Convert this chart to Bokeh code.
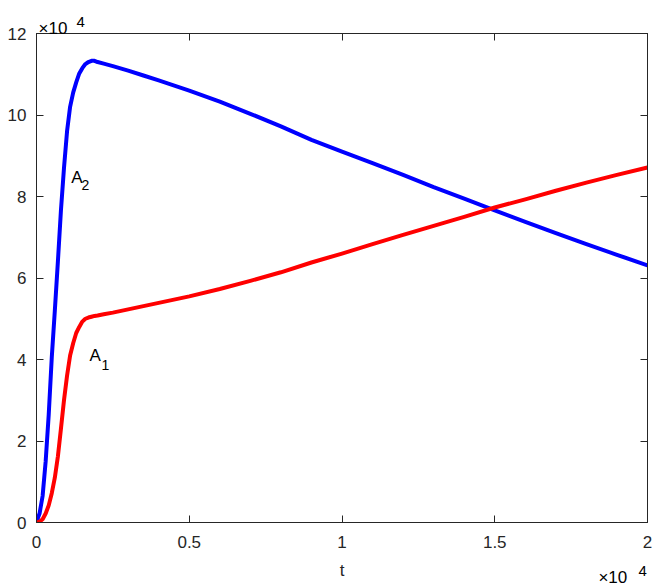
from bokeh.plotting import figure
from bokeh.models import LinearAxis, FixedTicker, Label, Range1d
from bokeh.embed import file_html
from bokeh.resources import INLINE

# time points
t = [0, 100, 200, 300, 400, 500, 600, 700, 800, 900, 1000, 1100, 1200, 1300,
     1400, 1500, 1600, 1700, 1800, 1900, 2000, 2200, 2500, 3000, 3500, 4000,
     5000, 6000, 7000, 8000, 9000, 10000, 11000, 12000, 13000, 14000, 15000,
     16000, 17000, 18000, 19000, 20000]

# A2 (blue)
A2 = [200, 2200, 6500, 15000, 26500, 40500, 52000, 64000, 76600, 87000,
      96000, 102000, 105500, 108000, 110200, 111500, 112500, 113000, 113300,
      113300, 113000, 112600, 112000, 110900, 109700, 108500, 106000, 103300,
      100300, 97200, 93900, 91000, 88200, 85300, 82300, 79500, 76600, 73800,
      71000, 68300, 65700, 63100]

# A1 (red)
A1 = [0, 200, 800, 2200, 4200, 7200, 11000, 16200, 23000, 30000, 36000,
      41000, 44000, 46500, 48000, 49300, 50000, 50300, 50500, 50700, 50800,
      51100, 51500, 52300, 53100, 53900, 55500, 57300, 59300, 61400, 63800,
      66000, 68300, 70600, 72800, 75000, 77300, 79300, 81400, 83400, 85300,
      87100]

x_ticks = [0, 5000, 10000, 15000, 20000]
x_tick_labels = ["0", "0.5", "1", "1.5", "2"]
y_ticks = [0, 20000, 40000, 60000, 80000, 100000, 120000]
y_tick_labels = ["0", "2", "4", "6", "8", "10", "12"]

FONT = "Liberation Sans"
DARK = "#262626"

# the side panels grow by (4 px left, 5 px top) because of the exponent
# labels; the canvas is enlarged by that much and shifted back with a
# negative margin so the frame lands where the reference has it
p = figure(width=666, height=591,
           x_range=Range1d(0, 20000), y_range=Range1d(0, 120000),
           output_backend="svg", toolbar_location=None,
           min_border_left=37, min_border_right=15,
           min_border_top=33, min_border_bottom=64,
           margin=(-5, 0, 0, -4))

p.xgrid.visible = False
p.ygrid.visible = False
p.outline_line_color = DARK
p.outline_line_width = 1
p.background_fill_color = "white"
p.border_fill_color = "white"

p.xaxis.ticker = FixedTicker(ticks=x_ticks)
p.xaxis.major_label_overrides = dict(zip(x_ticks, x_tick_labels))
p.yaxis.ticker = FixedTicker(ticks=y_ticks)
p.yaxis.major_label_overrides = dict(zip(y_ticks, y_tick_labels))

for ax in (p.xaxis[0], p.yaxis[0]):
    ax.major_tick_in = 7
    ax.major_tick_out = 0
    ax.minor_tick_line_color = None
    ax.axis_line_color = DARK
    ax.major_tick_line_color = DARK
    ax.major_label_text_font = FONT
    ax.major_label_text_font_size = "17px"
    ax.major_label_text_color = DARK
p.yaxis.major_label_standoff = 10
p.xaxis.major_label_standoff = 13

p.xaxis.axis_label = "t"
p.xaxis.axis_label_text_font = FONT
p.xaxis.axis_label_text_font_size = "17px"
p.xaxis.axis_label_text_font_style = "normal"
p.xaxis.axis_label_text_color = DARK
p.xaxis.axis_label_standoff = 10

# mirrored ticks on right and top
for loc, ticks in (("right", y_ticks), ("above", x_ticks)):
    ax = LinearAxis(ticker=FixedTicker(ticks=ticks))
    ax.major_tick_in = 7
    ax.major_tick_out = 0
    ax.minor_tick_line_color = None
    ax.axis_line_color = DARK
    ax.major_tick_line_color = DARK
    ax.major_label_text_font_size = "1px"
    ax.major_label_text_alpha = 0
    ax.major_label_standoff = 0
    p.add_layout(ax, loc)

p.line(t, A2, line_color="#0000ff", line_width=4, line_join="round")
p.line(t, A1, line_color="#ff0000", line_width=4, line_join="round")

def lab(x, y, text, size, place="center"):
    p.add_layout(Label(x=x, y=y, text=text, text_font=FONT,
                       text_font_size=size, text_color="black",
                       text_align="left", text_baseline="alphabetic"),
                 place)

# curve labels
lab(1138, 84660, "A", "17px")
lab(1475, 82700, "2", "14px")
lab(1738, 40980, "A", "17px")
lab(2131, 38530, "1", "14px")

# exponent labels: placed in side panels so they are not clipped to the
# frame (their position still comes from the data scales)
lab(66, 121230, "\u00d710", "17px", "above")
lab(18393, -13500, "\u00d710", "17px", "above")
lab(1311, 122940, "4", "15px", "left")
lab(19705, -12000, "4", "15px", "right")

open("out.html", "w").write(file_html(p, INLINE))
